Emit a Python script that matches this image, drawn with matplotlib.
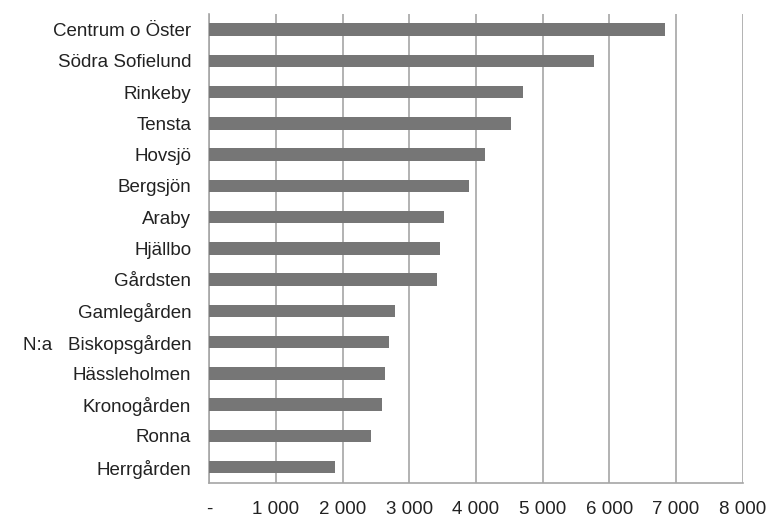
import matplotlib.pyplot as plt
import numpy as np
import matplotlib

matplotlib.rcParams['font.family'] = ['Liberation Sans', 'DejaVu Sans']

areas = ['Centrum o Öster', 'Södra Sofielund', 'Rinkeby', 'Tensta', 'Hovsjö',
         'Bergsjön', 'Araby', 'Hjällbo', 'Gårdsten', 'Gamlegården',
         'N:a   Biskopsgården', 'Hässleholmen', 'Kronogården', 'Ronna', 'Herrgården']
values = [6830, 5770, 4710, 4520, 4140, 3900, 3520, 3460, 3410, 2790,
          2690, 2640, 2590, 2420, 1880]
xticks = [0, 1000, 2000, 3000, 4000, 5000, 6000, 7000, 8000]
xticklabels = ['-', '1 000', '2 000', '3 000', '4 000', '5 000', '6 000', '7 000', '8 000']

fig = plt.figure(figsize=(7.72, 5.19), dpi=100)
ax = fig.add_axes([0.271, 0.070, 0.691, 0.903])

y = np.arange(len(areas))
ax.barh(y, values, height=0.4, color='#767676', zorder=3)
ax.set_ylim(len(areas) - 0.5, -0.5)
ax.set_xlim(0, 8000)

ax.set_yticks(y)
ax.set_yticklabels(areas, fontsize=13.5, color='#222222')
ax.set_xticks(xticks)
ax.set_xticklabels(xticklabels, fontsize=13.5, color='#222222')
ax.tick_params(axis='both', length=0)
ax.tick_params(axis='y', pad=13)
ax.tick_params(axis='x', pad=13)

ax.grid(axis='x', color='#a6a6a6', linewidth=1.2, zorder=0)
for s in ['top', 'right']:
    ax.spines[s].set_visible(False)
for s in ['left', 'bottom']:
    ax.spines[s].set_color('#a6a6a6')
    ax.spines[s].set_linewidth(1.2)

plt.savefig('out.png', dpi=100)
